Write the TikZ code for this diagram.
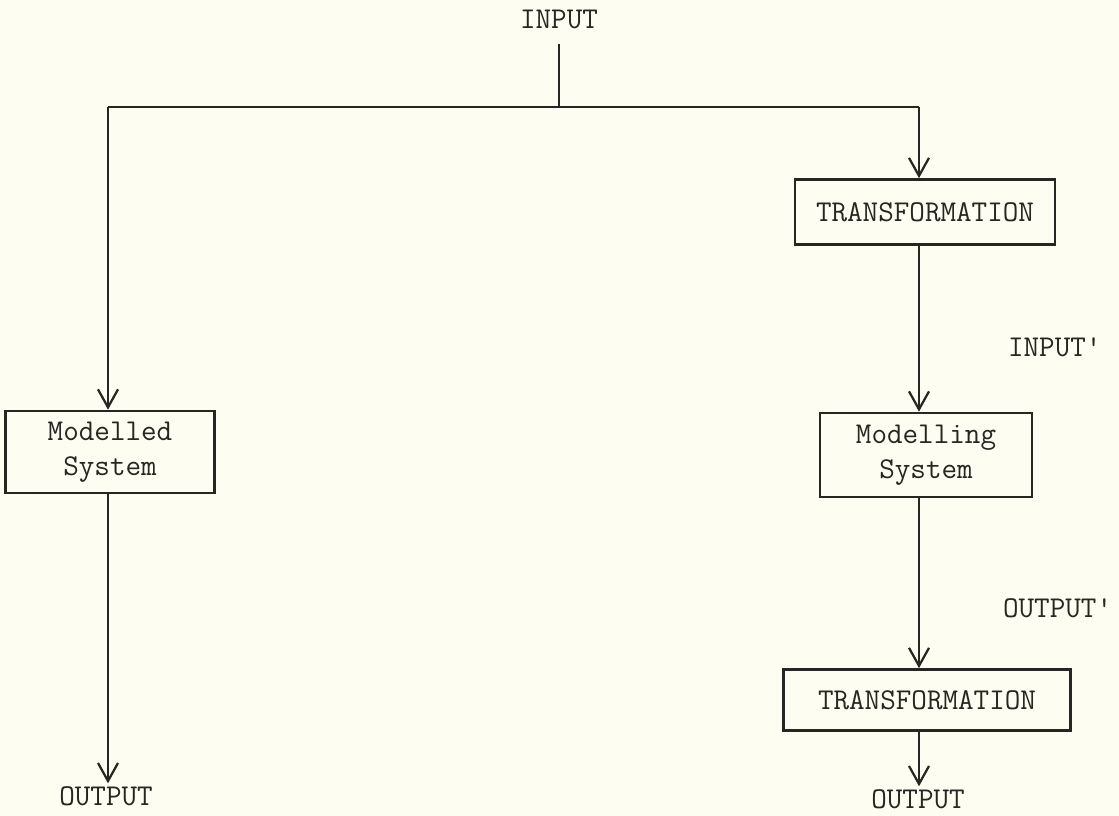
\documentclass[tikz,border=0pt]{standalone}
\usetikzlibrary{arrows.meta}
\definecolor{paper}{RGB}{253,253,241}
\definecolor{ink}{RGB}{38,38,34}
\tikzset{
    txt/.style={font=\fontsize{21.5}{24.5}\selectfont\ttfamily, text=ink, inner sep=2pt},
    box/.style={txt, draw=ink, line width=1.9pt, align=center},
    flow/.style={draw=ink, line width=1.9pt, -{Straight Barb[length=0.45cm, width=0.5cm, line width=1.6pt]}},
    wire/.style={draw=ink, line width=1.9pt}
}
\begin{document}
\begin{tikzpicture}[x=0.025cm, y=-0.025cm]
    \fill[paper] (0, 0) rectangle (1119, 816);
    \useasboundingbox (0, 0) rectangle (1119, 816);
    \node[txt] (in) at (559, 19) {INPUT};
    \coordinate (split) at (559, 107);
    \coordinate (lc) at (108, 107);
    \coordinate (rc) at (919, 107);
    \node[box, minimum width=209*0.025cm, minimum height=82*0.025cm] (modelled) at (110, 452) {Modelled\\System};
    \node[box, minimum width=260*0.025cm, minimum height=65*0.025cm] (trA) at (925, 212) {TRANSFORMATION};
    \node[box, minimum width=212*0.025cm, minimum height=84*0.025cm] (modelling) at (926, 455) {Modelling\\System};
    \node[box, minimum width=287*0.025cm, minimum height=61*0.025cm] (trB) at (927, 700) {TRANSFORMATION};
    \node[txt] (outL) at (106, 796) {OUTPUT};
    \node[txt] (outR) at (918, 799) {OUTPUT};
    \node[txt, anchor=west] (inP) at (1005, 347) {INPUT\textquotesingle};
    \node[txt, anchor=west] (outP) at (1000, 608) {OUTPUT\textquotesingle};
    \draw[wire, shorten <=9pt] (in.south) -- (split);
    \draw[wire] (lc) -- (rc);
    \draw[flow] (lc) -- (lc |- modelled.north);
    \draw[flow] (modelled.south -| lc) -- (lc |- outL.north);
    \draw[flow] (rc) -- (rc |- trA.north);
    \draw[flow] (trA.south -| rc) -- (rc |- modelling.north);
    \draw[flow] (modelling.south -| rc) -- (rc |- trB.north);
    \draw[flow] (trB.south -| rc) -- (rc |- outR.north);
\end{tikzpicture}
\end{document}
